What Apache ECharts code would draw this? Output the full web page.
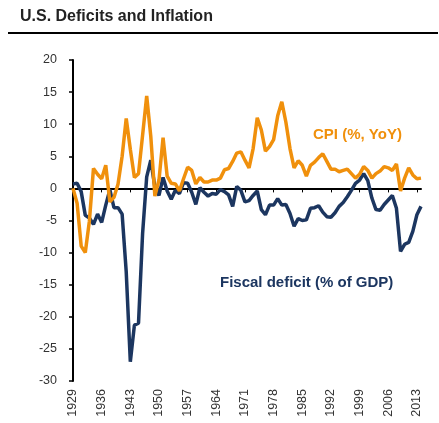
<!DOCTYPE html>
<html>
<head>
<meta charset="utf-8">
<script src="https://cdn.jsdelivr.net/npm/echarts@6/dist/echarts.min.js"></script>
<style>
  html, body { margin: 0; padding: 0; background: #fff; }
  #main { width: 439px; height: 423px; }
</style>
</head>
<body>
<div id="main"></div>
<script>
// years 1929 - 2014
var years = [];
for (var y = 1929; y <= 2014; y++) years.push(String(y));

// CPI, % yoy
var cpi = [
    0.0, -2.3, -9.0, -10.0, -5.1, 3.1, 2.2, 1.5, 3.6, -2.1,
    -1.4, 0.7, 5.0, 10.9, 6.1, 1.7, 2.3, 8.3, 14.4, 8.1,
    -1.2, 1.3, 7.9, 1.9, 0.8, 0.7, -0.4, 1.5, 3.3, 2.8,
    0.7, 1.7, 1.0, 1.0, 1.3, 1.3, 1.6, 2.9, 3.1, 4.2,
    5.5, 5.7, 4.4, 3.2, 6.2, 11.0, 9.1, 5.8, 6.5, 7.6,
    11.3, 13.5, 10.3, 6.2, 3.2, 4.3, 3.6, 1.9, 3.6, 4.1,
    4.8, 5.4, 4.2, 3.0, 3.0, 2.6, 2.8, 3.0, 2.3, 1.6,
    2.2, 3.4, 2.8, 1.6, 2.3, 2.7, 3.4, 3.2, 2.8, 3.8,
    -0.4, 1.6, 3.2, 2.1, 1.5, 1.6
];

// fiscal deficit, % of GDP
var deficit = [
    0.7, 0.8, -0.5, -4.2, -4.6, -5.6, -4.0, -5.3, -2.6, -0.2,
    -3.0, -3.0, -4.0, -13.0, -27.0, -21.3, -21.0, -7.0, 1.8, 4.4,
    0.2, -1.1, 1.7, -0.4, -1.7, -0.3, -0.8, 0.9, 0.8, -0.6,
    -2.5, 0.1, -0.6, -1.2, -0.8, -0.9, -0.2, -0.5, -1.0, -2.8,
    0.3, -0.3, -2.1, -1.9, -1.1, -0.4, -3.3, -4.1, -2.6, -2.6,
    -1.6, -2.6, -2.5, -3.9, -5.9, -4.7, -5.0, -4.9, -3.1, -3.0,
    -2.7, -3.7, -4.4, -4.5, -3.8, -2.8, -2.2, -1.3, -0.3, 0.8,
    1.3, 2.3, 1.2, -1.5, -3.3, -3.4, -2.5, -1.8, -1.1, -3.1,
    -9.8, -8.7, -8.4, -6.7, -4.1, -2.8
];

var orange = '#f0900c';
var navy = '#1c3660';
var font = '"Liberation Sans", Arial, sans-serif';

var myChart = echarts.init(document.getElementById('main'));
var option = {
    backgroundColor: '#fff',
    animation: false,
    grid: { left: 73, right: 18, top: 60, bottom: 42 },
    xAxis: [
        {
            type: 'category',
            data: years,
            boundaryGap: false,
            position: 'bottom',
            axisLine: { show: false, onZero: false },
            axisTick: { show: false },
            axisLabel: {
                interval: 6,
                rotate: 90,
                margin: 8,
                fontSize: 12.5,
                fontFamily: font,
                color: '#333'
            }
        },
        {
            type: 'category',
            data: years,
            boundaryGap: false,
            position: 'top',
            axisLine: { show: true, onZero: true, lineStyle: { color: '#000', width: 2 } },
            axisTick: { show: true, inside: true, interval: 6, length: 4, lineStyle: { color: '#000', width: 1 } },
            axisLabel: { show: false }
        }
    ],
    yAxis: {
        type: 'value',
        min: -30,
        max: 20,
        interval: 5,
        splitLine: { show: false },
        axisLine: { show: true, lineStyle: { color: '#000', width: 2 } },
        axisTick: { show: true, length: 4, lineStyle: { color: '#000', width: 1.5 } },
        axisLabel: { margin: 16, fontSize: 12.5, fontFamily: font, color: '#333' }
    },
    series: [
        {
            name: 'Fiscal deficit (% of GDP)',
            type: 'line',
            data: deficit,
            showSymbol: false,
            lineStyle: { color: navy, width: 3.5 },
            itemStyle: { color: navy }
        },
        {
            name: 'CPI (%, YoY)',
            type: 'line',
            data: cpi,
            showSymbol: false,
            lineStyle: { color: orange, width: 3.5 },
            itemStyle: { color: orange }
        }
    ],
    graphic: [
        {
            type: 'text', left: 20, top: 9,
            style: { text: 'U.S. Deficits and Inflation', font: 'bold 16px ' + font, fill: '#222' }
        },
        {
            type: 'rect', shape: { x: 8, y: 32, width: 430, height: 2 },
            style: { fill: '#000' }
        },
        {
            type: 'text', left: 313, top: 127,
            style: { text: 'CPI (%, YoY)', font: 'bold 15px ' + font, fill: orange }
        },
        {
            type: 'text', left: 220, top: 275,
            style: { text: 'Fiscal deficit (% of GDP)', font: 'bold 15px ' + font, fill: navy }
        }
    ]
};
myChart.setOption(option);
</script>
</body>
</html>
